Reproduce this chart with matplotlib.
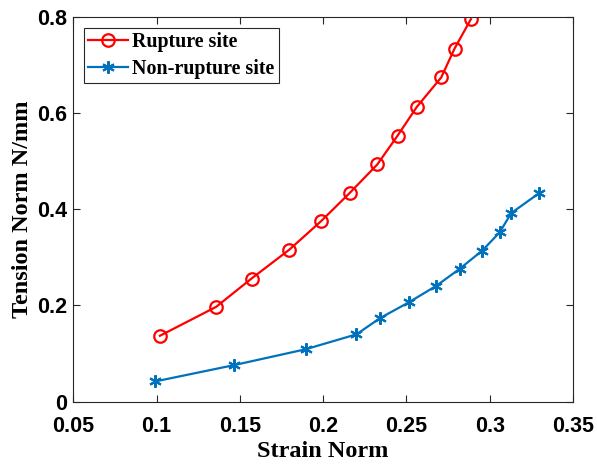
import matplotlib
matplotlib.use('Agg')
import matplotlib.pyplot as plt

# data
rupture_x = [0.102, 0.1357, 0.157, 0.1797, 0.1987, 0.216, 0.2325, 0.2447, 0.2563, 0.2709, 0.2789, 0.2887]
rupture_y = [0.137, 0.197, 0.256, 0.316, 0.375, 0.434, 0.493, 0.553, 0.613, 0.674, 0.734, 0.795]

nonrupture_x = [0.099, 0.1465, 0.1895, 0.220, 0.2343, 0.2517, 0.268, 0.2819, 0.2955, 0.306, 0.3129, 0.3295]
nonrupture_y = [0.042, 0.076, 0.109, 0.140, 0.174, 0.207, 0.241, 0.276, 0.314, 0.352, 0.392, 0.433]

x_ticks = [0.05, 0.1, 0.15, 0.2, 0.25, 0.3, 0.35]
x_ticklabels = ['0.05', '0.1', '0.15', '0.2', '0.25', '0.3', '0.35']
y_ticks = [0, 0.2, 0.4, 0.6, 0.8]
y_ticklabels = ['0', '0.2', '0.4', '0.6', '0.8']

red = (1.0, 0.0, 0.0)
blue = (0.0, 0.447, 0.741)
axcol = (0.15, 0.15, 0.15)

fig = plt.figure(figsize=(5.97, 4.66), dpi=100)
ax = fig.add_axes([0.1228, 0.138, 0.837, 0.826])

ax.plot(rupture_x, rupture_y, color=red, lw=1.6, marker='o', ms=9,
        mfc='none', mec=red, mew=1.6, label='Rupture site')
ax.plot(nonrupture_x, nonrupture_y, color=blue, lw=1.6, marker=(6, 2, 0), ms=9,
        mec=blue, mew=1.5, label='Non-rupture site')

ax.set_xlim(0.05, 0.35)
ax.set_ylim(0, 0.8)
ax.set_xticks(x_ticks)
ax.set_xticklabels(x_ticklabels)
ax.set_yticks(y_ticks)
ax.set_yticklabels(y_ticklabels)

for lab in ax.get_xticklabels() + ax.get_yticklabels():
    lab.set_fontfamily('Liberation Sans')
    lab.set_fontweight('bold')
    lab.set_fontsize(15.5)
    lab.set_color('black')

ax.tick_params(direction='in', length=5, width=0.8, color=axcol,
               top=True, right=True)
ax.tick_params(axis='x', pad=10)
ax.tick_params(axis='y', pad=4.5)
for s in ax.spines.values():
    s.set_color(axcol)
    s.set_linewidth(0.8)

ax.set_xlabel('Strain Norm', family='Liberation Serif', fontweight='bold',
              fontsize=17.5, labelpad=3)
ax.set_ylabel('Tension Norm N/mm', family='Liberation Serif', fontweight='bold',
              fontsize=17.5, labelpad=3)

leg = ax.legend(loc='upper left', prop={'family': 'Liberation Serif', 'weight': 'bold', 'size': 14.4},
                fancybox=False, edgecolor=axcol, framealpha=1, borderpad=0.2,
                handlelength=2.0, handletextpad=0.2, labelspacing=0.35,
                borderaxespad=0.55)
leg.get_frame().set_linewidth(0.8)

fig.savefig('out.png', dpi=100)
